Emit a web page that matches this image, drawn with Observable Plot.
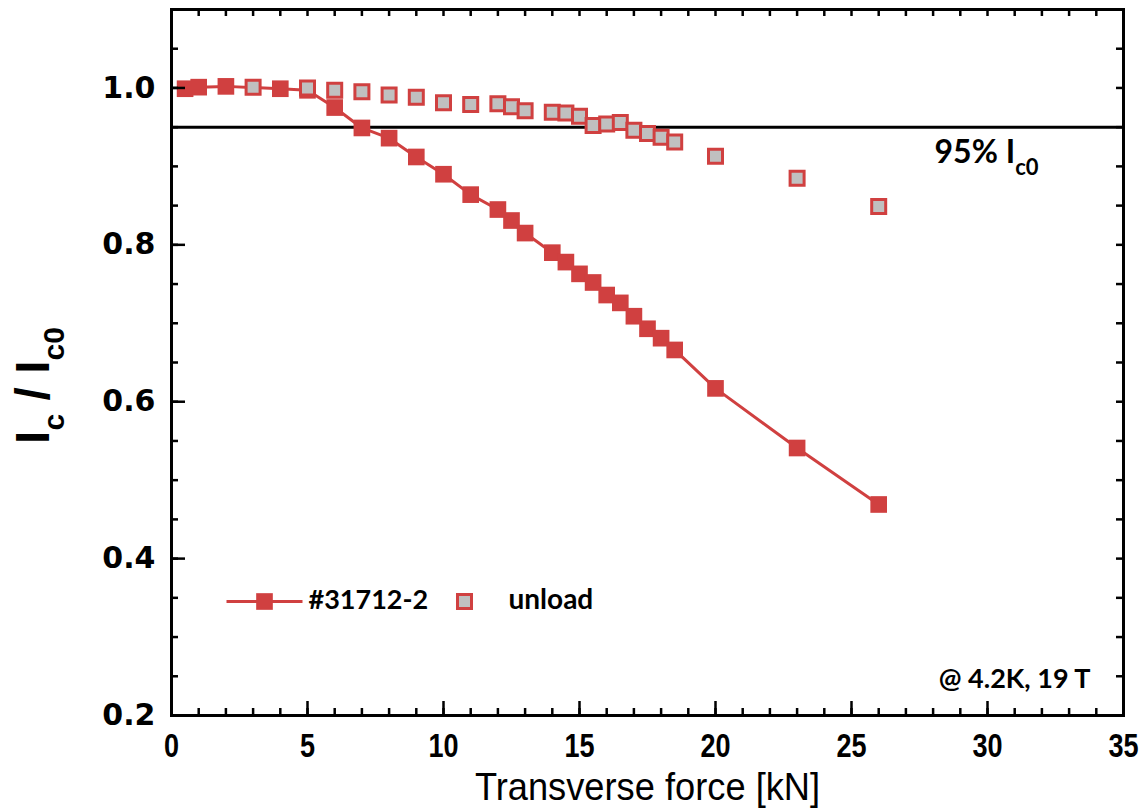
<!DOCTYPE html>
<html>
<head>
<meta charset="utf-8">
<script src="https://cdn.jsdelivr.net/npm/d3@7"></script>
<script src="https://cdn.jsdelivr.net/npm/@observablehq/plot@0.6"></script>
<style>
  html, body { margin: 0; padding: 0; background: #ffffff; }
  #chart { width: 1145px; height: 809px; }
</style>
</head>
<body>
<div id="chart"></div>
<script>
// ---- data ----
const loadForce = [0.5, 1, 2, 4, 5, 6, 7, 8, 9, 10, 11, 12, 12.5, 13, 14, 14.5, 15, 15.5, 16, 16.5, 17, 17.5, 18, 18.5, 20, 23, 26];
const loadIc    = [0.999, 1.001, 1.002, 0.999, 0.997, 0.975, 0.949, 0.936, 0.912, 0.890, 0.864, 0.845, 0.831, 0.815, 0.790, 0.778, 0.763, 0.752, 0.736, 0.726, 0.709, 0.693, 0.681, 0.666, 0.617, 0.541, 0.469];
const unloadForce = [3, 5, 6, 7, 8, 9, 10, 11, 12, 12.5, 13, 14, 14.5, 15, 15.5, 16, 16.5, 17, 17.5, 18, 18.5, 20, 23, 26];
const unloadIc    = [1.001, 1.000, 0.997, 0.995, 0.991, 0.988, 0.981, 0.979, 0.980, 0.976, 0.971, 0.969, 0.968, 0.964, 0.952, 0.954, 0.956, 0.946, 0.942, 0.937, 0.931, 0.913, 0.885, 0.849];
const thresholdLevel = 0.95;
const xTickValues = [0, 5, 10, 15, 20, 25, 30, 35];
const yTickValues = [0.2, 0.4, 0.6, 0.8, 1.0];
const xMinorValues = d3.range(0, 36, 1);
const yMinorValues = d3.range(0.2, 1.1001, 0.05);
const seriesNames = ["#31712-2", "unload"];
const thresholdText = "95% Ic0";
const conditionText = "@ 4.2K, 19 T";
const xTitle = "Transverse force [kN]";
const yTitle = "Ic / Ic0";

// ---- tables built from the arrays ----
const load = loadForce.map((f, i) => ({force: f, ic: loadIc[i]}));
const unload = unloadForce.map((f, i) => ({force: f, ic: unloadIc[i]}));

const W = 1145, H = 809;
const mL = 171, mR = 22, mT = 9, mB = 94;
const innerW = W - mL - mR, innerH = H - mT - mB;
const red = "#d04040";
const grey = "#c0c0c0";
const major = 14, minor = 7;
const tickW = 2.5;
const annFont = "Lato, 'Open Sans', sans-serif";
const sansFont = "'Liberation Sans', Arial, sans-serif";

const legendLine = {
  draw(context) {
    context.moveTo(-38, 0);
    context.lineTo(38, 0);
  }
};

const chart = Plot.plot({
  width: W,
  height: H,
  marginLeft: mL,
  marginRight: mR,
  marginTop: mT,
  marginBottom: mB,
  style: {background: "#ffffff", overflow: "visible"},
  x: {domain: [0, 35]},
  y: {domain: [0.2, 1.1]},
  marks: [
    Plot.ruleY([thresholdLevel], {stroke: "#000", strokeWidth: 3}),
    Plot.line(load, {x: "force", y: "ic", stroke: red, strokeWidth: 3}),
    Plot.dot(load, {x: "force", y: "ic", symbol: "square", r: 9.4, fill: red, stroke: "none"}),
    Plot.dot(unload, {x: "force", y: "ic", symbol: "square", r: 7.9, fill: grey, stroke: red, strokeWidth: 3}),

    // inward ticks: bottom, top, left, right
    Plot.tickX(xMinorValues, {x: d => d, insetTop: innerH - minor, stroke: "#000", strokeWidth: tickW}),
    Plot.tickX(xTickValues, {x: d => d, insetTop: innerH - major, stroke: "#000", strokeWidth: tickW}),
    Plot.tickX(xMinorValues, {x: d => d, insetBottom: innerH - minor, stroke: "#000", strokeWidth: tickW}),
    Plot.tickY(yMinorValues, {y: d => d, insetRight: innerW - minor, stroke: "#000", strokeWidth: tickW}),
    Plot.tickY(yTickValues, {y: d => d, insetRight: innerW - major, stroke: "#000", strokeWidth: tickW}),
    Plot.tickY(yMinorValues, {y: d => d, insetLeft: innerW - minor, stroke: "#000", strokeWidth: tickW}),

    Plot.frame({stroke: "#000", strokeWidth: 3}),

    Plot.axisX(xTickValues, {tickSize: 0, tickPadding: 18, fontSize: 33, fontWeight: "bold",
      fontFamily: sansFont, label: null, fill: "#000"}),
    Plot.axisY(yTickValues, {tickSize: 0, tickPadding: 16, fontSize: 30, fontWeight: "bold",
      fontFamily: "'DejaVu Sans', sans-serif", label: null, tickFormat: d => d.toFixed(1), fill: "#000"}),

    // axis titles
    Plot.text([xTitle], {frameAnchor: "bottom", dy: 84, lineAnchor: "bottom", fontSize: 39,
      fontFamily: sansFont, fill: "#000"}),
    Plot.text([yTitle], {frameAnchor: "left", dx: -123, dy: 23, rotate: -90, lineAnchor: "bottom",
      textAnchor: "middle", fontSize: 48, fontWeight: "bold", fontFamily: sansFont, fill: "#000"}),

    // annotations
    Plot.text([thresholdLevel], {y: d => d, text: () => thresholdText, frameAnchor: "right", textAnchor: "end",
      dx: -85, dy: 36, lineAnchor: "bottom", fontSize: 32, fontWeight: "bold", fontFamily: annFont, fill: "#000"}),
    Plot.text([conditionText], {frameAnchor: "bottom-right", textAnchor: "end", dx: -33, dy: -28,
      lineAnchor: "bottom", fontSize: 27, fontWeight: "bold", fontFamily: annFont, fill: "#000"}),

    // legend
    Plot.dot([seriesNames[0]], {frameAnchor: "bottom-left", dx: 93, dy: -114, symbol: legendLine, stroke: red, strokeWidth: 3, fill: "none"}),
    Plot.dot([seriesNames[0]], {frameAnchor: "bottom-left", dx: 93, dy: -114, symbol: "square", r: 9.4, fill: red, stroke: "none"}),
    Plot.text([seriesNames[0]], {frameAnchor: "bottom-left", dx: 137, dy: -107, textAnchor: "start",
      fontSize: 27, fontWeight: "bold", fontFamily: annFont, fill: "#000"}),
    Plot.dot([seriesNames[1]], {frameAnchor: "bottom-left", dx: 293, dy: -114, symbol: "square", r: 7.9, fill: grey, stroke: red, strokeWidth: 3}),
    Plot.text([seriesNames[1]], {frameAnchor: "bottom-left", dx: 337, dy: -107, textAnchor: "start",
      fontSize: 28, fontWeight: "bold", fontFamily: annFont, fill: "#000"})
  ]
});

// subscripts inside text labels
function subscriptify(node, parts, subSize, shift) {
  const sel = d3.select(node);
  sel.text(null);
  let prevSub = false;
  parts.forEach(p => {
    const t = sel.append("tspan").text(p.t);
    if (p.sub && !prevSub) { t.attr("font-size", subSize).attr("dy", shift); }
    else if (!p.sub && prevSub) { t.attr("dy", -shift); }
    else if (p.sub) { t.attr("font-size", subSize); }
    prevSub = !!p.sub;
  });
}
function condense(node, k) {
  const tr = node.getAttribute("transform") || "";
  node.setAttribute("transform", (tr + ` scale(${k},1)`).trim());
}
d3.select(chart).selectAll("text").each(function () {
  if (this.textContent === yTitle) {
    subscriptify(this, [{t: "I"}, {t: "c", sub: true}, {t: " / I"}, {t: "c0", sub: true}], 30, 15);
  } else if (this.textContent === thresholdText) {
    subscriptify(this, [{t: "95% I"}, {t: "c0", sub: true}], 22, 12);
  } else if (this.textContent === xTitle) {
    condense(this, 0.93);
  }
});
d3.select(chart).selectAll('g[aria-label="x-axis tick label"] text').each(function () {
  condense(this, 0.82);
});

document.getElementById("chart").appendChild(chart);
</script>
</body>
</html>
